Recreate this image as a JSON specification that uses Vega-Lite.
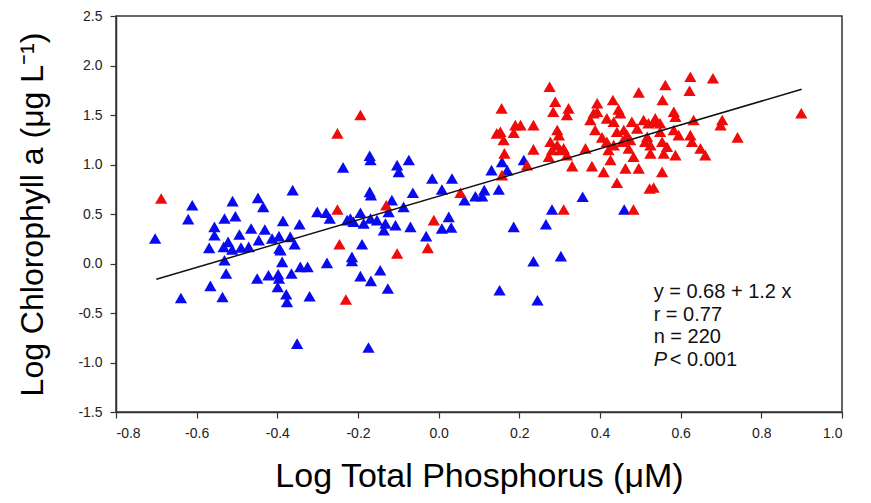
{
  "$schema": "https://vega.github.io/schema/vega-lite/v6.json",
  "width": 726,
  "height": 396,
  "autosize": {"type": "none"},
  "padding": {"left": 116, "top": 16, "right": 29, "bottom": 91},
  "background": "white",
  "config": {
    "font": "Liberation Sans",
    "view": {"stroke": "#333333", "strokeWidth": 1.5},
    "axis": {
      "grid": false,
      "domainColor": "#333333",
      "domainWidth": 1.5,
      "tickColor": "#333333",
      "tickWidth": 1.2,
      "tickSize": 6,
      "labelFont": "Liberation Sans",
      "labelFontSize": 14,
      "labelColor": "#222222",
      "labelPadding": 8,
      "titleFont": "Liberation Sans",
      "titleFontWeight": "normal",
      "titleFontSize": 32,
      "titleColor": "#000000"
    }
  },
  "datasets": {
    "points": [
      {"x": -0.237, "y": 0.971, "g": "b"}, {"x": -0.362, "y": 0.741, "g": "b"}, {"x": -0.611, "y": 0.589, "g": "b"},
      {"x": -0.511, "y": 0.630, "g": "b"}, {"x": -0.448, "y": 0.663, "g": "b"}, {"x": -0.435, "y": 0.572, "g": "b"},
      {"x": -0.621, "y": 0.448, "g": "b"}, {"x": -0.531, "y": 0.455, "g": "b"}, {"x": -0.504, "y": 0.478, "g": "b"},
      {"x": -0.301, "y": 0.522, "g": "b"}, {"x": -0.279, "y": 0.512, "g": "b"}, {"x": -0.270, "y": 0.455, "g": "b"},
      {"x": -0.227, "y": 0.438, "g": "b"}, {"x": -0.556, "y": 0.370, "g": "b"}, {"x": -0.386, "y": 0.431, "g": "b"},
      {"x": -0.345, "y": 0.397, "g": "b"}, {"x": -0.556, "y": 0.286, "g": "b"}, {"x": -0.465, "y": 0.354, "g": "b"},
      {"x": -0.431, "y": 0.344, "g": "b"}, {"x": -0.703, "y": 0.253, "g": "b"}, {"x": -0.494, "y": 0.293, "g": "b"},
      {"x": -0.413, "y": 0.253, "g": "b"}, {"x": -0.396, "y": 0.276, "g": "b"}, {"x": -0.368, "y": 0.269, "g": "b"},
      {"x": -0.522, "y": 0.218, "g": "b"}, {"x": -0.446, "y": 0.236, "g": "b"}, {"x": -0.357, "y": 0.195, "g": "b"},
      {"x": -0.569, "y": 0.158, "g": "b"}, {"x": -0.533, "y": 0.168, "g": "b"}, {"x": -0.512, "y": 0.142, "g": "b"},
      {"x": -0.490, "y": 0.162, "g": "b"}, {"x": -0.471, "y": 0.168, "g": "b"}, {"x": -0.395, "y": 0.152, "g": "b"},
      {"x": -0.392, "y": 0.134, "g": "b"}, {"x": -0.531, "y": 0.033, "g": "b"}, {"x": -0.388, "y": 0.016, "g": "b"},
      {"x": -0.277, "y": 0.006, "g": "b"}, {"x": -0.343, "y": -0.034, "g": "b"}, {"x": -0.325, "y": -0.034, "g": "b"},
      {"x": -0.527, "y": -0.101, "g": "b"}, {"x": -0.422, "y": -0.118, "g": "b"}, {"x": -0.398, "y": -0.108, "g": "b"},
      {"x": -0.365, "y": -0.101, "g": "b"}, {"x": -0.450, "y": -0.152, "g": "b"}, {"x": -0.396, "y": -0.152, "g": "b"},
      {"x": -0.566, "y": -0.226, "g": "b"}, {"x": -0.399, "y": -0.237, "g": "b"}, {"x": -0.639, "y": -0.348, "g": "b"},
      {"x": -0.536, "y": -0.338, "g": "b"}, {"x": -0.378, "y": -0.310, "g": "b"}, {"x": -0.320, "y": -0.331, "g": "b"},
      {"x": -0.376, "y": -0.388, "g": "b"}, {"x": -0.351, "y": -0.809, "g": "b"},
      {"x": -0.171, "y": 1.088, "g": "b"}, {"x": -0.169, "y": 1.045, "g": "b"}, {"x": -0.103, "y": 0.994, "g": "b"},
      {"x": -0.099, "y": 0.926, "g": "b"}, {"x": -0.074, "y": 1.045, "g": "b"}, {"x": -0.171, "y": 0.724, "g": "b"},
      {"x": -0.168, "y": 0.691, "g": "b"}, {"x": -0.116, "y": 0.640, "g": "b"}, {"x": -0.064, "y": 0.714, "g": "b"},
      {"x": -0.016, "y": 0.859, "g": "b"}, {"x": 0.033, "y": 0.859, "g": "b"}, {"x": 0.008, "y": 0.748, "g": "b"},
      {"x": -0.087, "y": 0.572, "g": "b"}, {"x": -0.124, "y": 0.522, "g": "b"}, {"x": -0.194, "y": 0.512, "g": "b"},
      {"x": -0.219, "y": 0.455, "g": "b"}, {"x": -0.211, "y": 0.421, "g": "b"}, {"x": -0.186, "y": 0.404, "g": "b"},
      {"x": -0.169, "y": 0.455, "g": "b"}, {"x": -0.153, "y": 0.438, "g": "b"}, {"x": -0.132, "y": 0.404, "g": "b"},
      {"x": -0.107, "y": 0.387, "g": "b"}, {"x": -0.136, "y": 0.337, "g": "b"}, {"x": -0.070, "y": 0.370, "g": "b"},
      {"x": 0.025, "y": 0.471, "g": "b"}, {"x": 0.008, "y": 0.354, "g": "b"}, {"x": 0.031, "y": 0.364, "g": "b"},
      {"x": -0.031, "y": 0.276, "g": "b"}, {"x": -0.190, "y": 0.195, "g": "b"}, {"x": -0.215, "y": 0.067, "g": "b"},
      {"x": -0.215, "y": 0.026, "g": "b"}, {"x": -0.145, "y": -0.068, "g": "b"}, {"x": -0.194, "y": -0.128, "g": "b"},
      {"x": -0.168, "y": -0.176, "g": "b"}, {"x": -0.126, "y": -0.253, "g": "b"}, {"x": -0.174, "y": -0.849, "g": "b"},
      {"x": 0.064, "y": 0.640, "g": "b"}, {"x": 0.091, "y": 0.680, "g": "b"}, {"x": 0.108, "y": 0.680, "g": "b"},
      {"x": 0.113, "y": 0.741, "g": "b"}, {"x": 0.131, "y": 0.943, "g": "b"}, {"x": 0.149, "y": 0.748, "g": "b"},
      {"x": 0.157, "y": 1.027, "g": "b"}, {"x": 0.170, "y": 0.943, "g": "b"}, {"x": 0.186, "y": 0.370, "g": "b"},
      {"x": 0.151, "y": -0.270, "g": "b"}, {"x": 0.211, "y": 1.045, "g": "b"}, {"x": 0.357, "y": 0.674, "g": "b"},
      {"x": 0.281, "y": 0.546, "g": "b"}, {"x": 0.460, "y": 0.546, "g": "b"}, {"x": 0.266, "y": 0.397, "g": "b"},
      {"x": 0.235, "y": 0.023, "g": "b"}, {"x": 0.303, "y": 0.074, "g": "b"}, {"x": 0.245, "y": -0.371, "g": "b"},
      {"x": -0.688, "y": 0.657, "g": "r"}, {"x": -0.251, "y": 0.546, "g": "r"}, {"x": -0.246, "y": 0.195, "g": "r"},
      {"x": -0.230, "y": -0.364, "g": "r"}, {"x": -0.194, "y": 1.500, "g": "r"}, {"x": -0.251, "y": 1.314, "g": "r"},
      {"x": -0.130, "y": 0.589, "g": "r"}, {"x": -0.012, "y": 0.438, "g": "r"}, {"x": -0.103, "y": 0.101, "g": "r"},
      {"x": -0.027, "y": 0.158, "g": "r"}, {"x": 0.054, "y": 0.714, "g": "r"}, {"x": 0.156, "y": 1.567, "g": "r"},
      {"x": 0.144, "y": 1.314, "g": "r"}, {"x": 0.153, "y": 1.331, "g": "r"}, {"x": 0.161, "y": 1.247, "g": "r"},
      {"x": 0.190, "y": 1.398, "g": "r"}, {"x": 0.203, "y": 1.398, "g": "r"}, {"x": 0.186, "y": 1.321, "g": "r"},
      {"x": 0.163, "y": 1.112, "g": "r"}, {"x": 0.157, "y": 0.893, "g": "r"}, {"x": 0.219, "y": 0.994, "g": "r"},
      {"x": 0.275, "y": 1.786, "g": "r"}, {"x": 0.289, "y": 1.634, "g": "r"}, {"x": 0.284, "y": 1.533, "g": "r"},
      {"x": 0.322, "y": 1.567, "g": "r"}, {"x": 0.318, "y": 1.500, "g": "r"}, {"x": 0.393, "y": 1.618, "g": "r"},
      {"x": 0.432, "y": 1.651, "g": "r"}, {"x": 0.496, "y": 1.729, "g": "r"}, {"x": 0.384, "y": 1.517, "g": "r"},
      {"x": 0.393, "y": 1.533, "g": "r"}, {"x": 0.376, "y": 1.449, "g": "r"}, {"x": 0.446, "y": 1.557, "g": "r"},
      {"x": 0.450, "y": 1.517, "g": "r"}, {"x": 0.417, "y": 1.466, "g": "r"}, {"x": 0.434, "y": 1.432, "g": "r"},
      {"x": 0.479, "y": 1.432, "g": "r"}, {"x": 0.508, "y": 1.449, "g": "r"}, {"x": 0.235, "y": 1.398, "g": "r"},
      {"x": 0.294, "y": 1.348, "g": "r"}, {"x": 0.298, "y": 1.297, "g": "r"}, {"x": 0.388, "y": 1.348, "g": "r"},
      {"x": 0.405, "y": 1.274, "g": "r"}, {"x": 0.417, "y": 1.230, "g": "r"}, {"x": 0.442, "y": 1.331, "g": "r"},
      {"x": 0.459, "y": 1.348, "g": "r"}, {"x": 0.467, "y": 1.297, "g": "r"}, {"x": 0.492, "y": 1.365, "g": "r"},
      {"x": 0.517, "y": 1.280, "g": "r"}, {"x": 0.277, "y": 1.230, "g": "r"}, {"x": 0.294, "y": 1.196, "g": "r"},
      {"x": 0.310, "y": 1.163, "g": "r"}, {"x": 0.281, "y": 1.146, "g": "r"}, {"x": 0.302, "y": 1.146, "g": "r"},
      {"x": 0.235, "y": 1.153, "g": "r"}, {"x": 0.273, "y": 1.078, "g": "r"}, {"x": 0.318, "y": 1.095, "g": "r"},
      {"x": 0.364, "y": 1.163, "g": "r"}, {"x": 0.421, "y": 1.146, "g": "r"}, {"x": 0.434, "y": 1.196, "g": "r"},
      {"x": 0.471, "y": 1.163, "g": "r"}, {"x": 0.483, "y": 1.078, "g": "r"}, {"x": 0.331, "y": 0.984, "g": "r"},
      {"x": 0.380, "y": 0.984, "g": "r"}, {"x": 0.409, "y": 0.926, "g": "r"}, {"x": 0.496, "y": 0.961, "g": "r"},
      {"x": 0.442, "y": 0.815, "g": "r"}, {"x": 0.310, "y": 0.546, "g": "r"}, {"x": 0.483, "y": 0.546, "g": "r"},
      {"x": 0.523, "y": 0.758, "g": "r"}, {"x": 0.562, "y": 1.803, "g": "r"}, {"x": 0.624, "y": 1.887, "g": "r"},
      {"x": 0.622, "y": 1.745, "g": "r"}, {"x": 0.555, "y": 1.651, "g": "r"}, {"x": 0.537, "y": 1.466, "g": "r"},
      {"x": 0.583, "y": 1.533, "g": "r"}, {"x": 0.587, "y": 1.482, "g": "r"}, {"x": 0.632, "y": 1.449, "g": "r"},
      {"x": 0.520, "y": 1.416, "g": "r"}, {"x": 0.533, "y": 1.432, "g": "r"}, {"x": 0.549, "y": 1.416, "g": "r"},
      {"x": 0.549, "y": 1.331, "g": "r"}, {"x": 0.583, "y": 1.348, "g": "r"}, {"x": 0.595, "y": 1.297, "g": "r"},
      {"x": 0.624, "y": 1.297, "g": "r"}, {"x": 0.628, "y": 1.230, "g": "r"}, {"x": 0.455, "y": 1.230, "g": "r"},
      {"x": 0.475, "y": 1.247, "g": "r"}, {"x": 0.512, "y": 1.230, "g": "r"}, {"x": 0.525, "y": 1.196, "g": "r"},
      {"x": 0.554, "y": 1.230, "g": "r"}, {"x": 0.566, "y": 1.179, "g": "r"}, {"x": 0.587, "y": 1.095, "g": "r"},
      {"x": 0.426, "y": 1.045, "g": "r"}, {"x": 0.525, "y": 1.112, "g": "r"}, {"x": 0.558, "y": 1.112, "g": "r"},
      {"x": 0.463, "y": 0.961, "g": "r"}, {"x": 0.554, "y": 0.926, "g": "r"}, {"x": 0.533, "y": 0.768, "g": "r"},
      {"x": 0.680, "y": 1.871, "g": "r"}, {"x": 0.703, "y": 1.449, "g": "r"}, {"x": 0.699, "y": 1.398, "g": "r"},
      {"x": 0.741, "y": 1.274, "g": "r"}, {"x": 0.899, "y": 1.517, "g": "r"}, {"x": 0.649, "y": 1.163, "g": "r"},
      {"x": 0.661, "y": 1.095, "g": "r"}
    ],
    "fit": [
      {"x": -0.7, "y": -0.16},
      {"x": 0.9, "y": 1.76}
    ],
    "stats": [
      {"x": 0.533, "y": -0.287, "t": "y = 0.68 + 1.2 x"},
      {"x": 0.533, "y": -0.516, "t": "r = 0.77"},
      {"x": 0.533, "y": -0.743, "t": "n = 220"},
      {"x": 0.573, "y": -0.971, "t": "< 0.001"}
    ],
    "statsItalic": [
      {"x": 0.533, "y": -0.971, "t": "P"}
    ]
  },
  "encoding": {
    "x": {
      "field": "x",
      "type": "quantitative",
      "scale": {"domain": [-0.8, 1.0], "nice": false, "zero": false},
      "axis": {
        "values": [-0.8, -0.6, -0.4, -0.2, 0, 0.2, 0.4, 0.6, 0.8, 1.0],
        "labelExpr": "replace(format(datum.value, '.1f'), '\u2212', '-')",
        "title": "Log Total Phosphorus (\u03bcM)",
        "titleFontSize": 34,
        "titlePadding": 19
      }
    },
    "y": {
      "field": "y",
      "type": "quantitative",
      "scale": {"domain": [-1.5, 2.5], "nice": false, "zero": false},
      "axis": {
        "values": [-1.5, -1.0, -0.5, 0, 0.5, 1.0, 1.5, 2.0, 2.5],
        "labelExpr": "replace(format(datum.value, '.1f'), '\u2212', '-')",
        "title": "Log Chlorophyll a (\u03bcg L\u207b\u00b9)",
        "titlePadding": 28
      }
    }
  },
  "layer": [
    {
      "data": {"name": "points"},
      "mark": {"type": "point", "shape": "triangle-up", "filled": true, "size": 150, "opacity": 1},
      "encoding": {
        "color": {
          "field": "g",
          "type": "nominal",
          "scale": {"domain": ["b", "r"], "range": ["#0a0af0", "#f00a0a"]},
          "legend": null
        }
      }
    },
    {
      "data": {"name": "fit"},
      "mark": {"type": "line", "color": "#111111", "strokeWidth": 1.5},
      "encoding": {}
    },
    {
      "data": {"name": "stats"},
      "mark": {"type": "text", "align": "left", "baseline": "middle", "fontSize": 20, "color": "#111111", "font": "Liberation Sans"},
      "encoding": {"text": {"field": "t"}}
    },
    {
      "data": {"name": "statsItalic"},
      "mark": {"type": "text", "align": "left", "baseline": "middle", "fontSize": 20, "fontStyle": "italic", "color": "#111111", "font": "Liberation Sans"},
      "encoding": {"text": {"field": "t"}}
    }
  ]
}
